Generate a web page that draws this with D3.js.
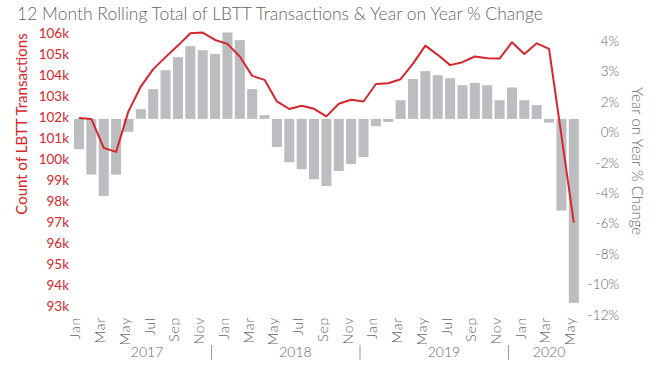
<!DOCTYPE html>
<meta charset="utf-8">
<head>
	<title>LBTT Transactions</title>
	<style>
		body {
		    margin:0px;
		    background:#fff;
		}
		text {
		    font-family: 'Lato', sans-serif;
		}
	</style>
</head>
<body>
	<svg id="chart" width="662" height="374"></svg>

	<script src="https://cdnjs.cloudflare.com/ajax/libs/d3/7.8.5/d3.min.js"></script>
	<script>
		// 12 month rolling total of transactions (count)
		var rollingTotal = [
			101950, 101910, 100530, 100340, 102270, 103450, 104280, 104850, 105400, 105990, 106020, 105670,
			105480, 104880, 103960, 103770, 102740, 102380, 102540, 102390, 102030, 102630, 102820, 102740,
			103570, 103610, 103800, 104540, 105400, 104960, 104470, 104610, 104880, 104800, 104780, 105560,
			105000, 105510, 105240, 101110, 96970
		];

		// year on year % change (bars)
		var yoyChange = [
			-1.78, -3.27, -4.53, -3.28, -0.76, 0.57, 1.75, 2.86, 3.63, 4.28, 4.04, 3.82,
			5.08, 4.63, 1.75, 0.22, -1.65, -2.55, -2.96, -3.55, -3.94, -3.06, -2.66, -2.24,
			-0.43, -0.18, 1.10, 2.34, 2.81, 2.57, 2.39, 1.98, 2.12, 1.98, 1.10, 1.85,
			1.10, 0.81, -0.22, -5.39, -10.82
		];

		var leftTicks = [93000, 94000, 95000, 96000, 97000, 98000, 99000, 100000, 101000, 102000, 103000, 104000, 105000, 106000];
		var rightTickLabels = ["4%", "3%", "2%", "0%", "-2%", "-4%", "-6%", "-8%", "-10%", "-12%"];
		var years = ["2017", "2018", "2019", "2020"];

		var months = d3.timeMonths(new Date(2017, 0, 1), new Date(2020, 5, 1));
		var monthKey = d3.timeFormat("%Y-%m");
		var monthName = d3.timeFormat("%b");

		var red = "#d6262d", grey = "#666", barGrey = "#bcbdc1";

		var svg = d3.select("#chart");

		var x = d3.scaleBand()
			.domain(months.map(monthKey))
			.range([72.8, 580])
			.paddingInner(0.19)
			.paddingOuter(0.095);

		function xc(k) { return x(k) + x.bandwidth() / 2; }

		var yL = d3.scaleLinear().domain([93000, 106000]).range([306, 33]);
		var yR = d3.scaleLinear().domain([-11, 5.05]).range([306, 33]);
		var yLab = d3.scalePoint().domain(rightTickLabels).range([41, 315]);

		// title
		svg.append("text")
			.attr("x", 17)
			.attr("y", 20)
			.style("font-size", "17.5px")
			.style("font-weight", 300)
			.style("fill", grey)
			.text("12 Month Rolling Total of LBTT Transactions & Year on Year % Change");

		// bars
		svg.append("g")
			.selectAll("rect")
			.data(months)
			.enter().append("rect")
			.attr("x", function(d) { return x(monthKey(d)); })
			.attr("width", x.bandwidth())
			.attr("y", function(d, i) { return yR(Math.max(0, yoyChange[i])); })
			.attr("height", function(d, i) { return Math.abs(yR(yoyChange[i]) - yR(0)); })
			.attr("fill", barGrey);

		// line
		var line = d3.line()
			.x(function(d, i) { return xc(monthKey(months[i])); })
			.y(function(d) { return yL(d); });

		svg.append("path")
			.datum(rollingTotal)
			.attr("d", line)
			.attr("fill", "none")
			.attr("stroke", red)
			.attr("stroke-width", 2)
			.attr("stroke-linejoin", "round");

		// left axis
		var gl = svg.append("g")
			.attr("transform", "translate(69,0)")
			.call(d3.axisLeft(yL).tickValues(leftTicks).tickSize(0).tickPadding(0)
				.tickFormat(function(d) { return (d / 1000) + "k"; }));
		gl.select(".domain").remove();
		gl.selectAll("text")
			.style("font-family", "Lato")
			.style("font-size", "13.5px")
			.style("fill", red);

		// right axis
		var gr = svg.append("g")
			.attr("transform", "translate(619,0)")
			.call(d3.axisLeft(yLab).tickSize(0).tickPadding(0));
		gr.select(".domain").remove();
		gr.selectAll("text")
			.style("font-family", "Lato")
			.style("font-size", "13.5px")
			.style("font-weight", 300)
			.style("fill", grey);

		// axis titles
		svg.append("text")
			.attr("transform", "translate(27,124) rotate(-90)")
			.attr("text-anchor", "middle")
			.style("font-size", "15px")
			.style("fill", red)
			.text("Count of LBTT Transactions");

		svg.append("text")
			.attr("transform", "translate(632,161) rotate(90)")
			.attr("text-anchor", "middle")
			.style("font-size", "15px")
			.style("font-weight", 300)
			.style("fill", grey)
			.text("Year on Year % Change");

		// month labels
		var gx = svg.append("g")
			.attr("transform", "translate(0,317)")
			.call(d3.axisBottom(x)
				.tickValues(months.filter(function(d) { return d.getMonth() % 2 == 0; }).map(monthKey))
				.tickSize(0)
				.tickFormat(function(k) { return monthName(d3.timeParse("%Y-%m")(k)); }));
		gx.select(".domain").remove();
		gx.selectAll("text")
			.attr("transform", "rotate(-90)")
			.attr("x", 0)
			.attr("y", 0)
			.attr("dy", "0.1em")
			.style("text-anchor", "end")
			.style("font-family", "Lato")
			.style("font-size", "14px")
			.style("letter-spacing", "0.8px")
			.style("font-weight", 300)
			.style("fill", grey);

		// year labels + separators
		years.forEach(function(yr, i) {
			var ms = months.filter(function(d) { return d.getFullYear() == +yr; });
			var first = xc(monthKey(ms[0])), last = xc(monthKey(ms[ms.length - 1]));
			svg.append("text")
				.attr("x", (first + last) / 2)
				.attr("y", 357)
				.attr("text-anchor", "middle")
				.style("font-size", "14px")
				.style("font-weight", 300)
				.style("fill", grey)
				.text(yr);
			if (i < years.length - 1) {
				var sx = last - x.bandwidth() * 0.35;
				svg.append("line")
					.attr("x1", sx).attr("x2", sx)
					.attr("y1", 345).attr("y2", 360)
					.attr("stroke", "#999")
					.attr("stroke-width", 1);
			}
		});
	</script>
</body>
